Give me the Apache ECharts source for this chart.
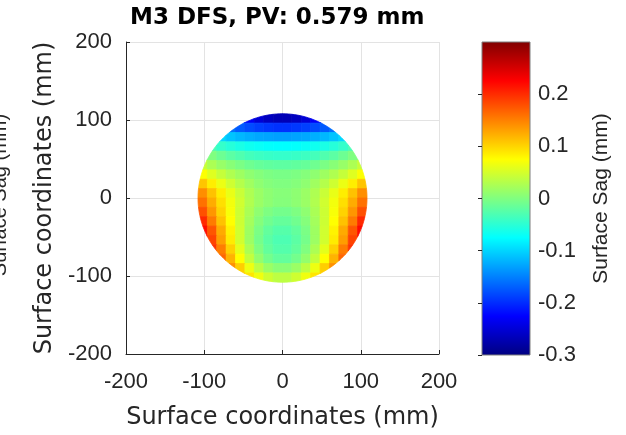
<!DOCTYPE html>
<html>
<head>
<meta charset="utf-8">
<title>M3 DFS</title>
<script src="https://cdn.jsdelivr.net/npm/echarts@6/dist/echarts.min.js"></script>
<style>
html, body { margin: 0; padding: 0; background: #fff; }
#sag_map { width: 626px; height: 435px; }
</style>
</head>
<body>
<div id="sag_map"></div>
<script>
var xCenters = [-102, -90, -78, -66, -54, -42, -30, -18, -6, 6, 18, 30, 42, 54, 66, 78, 90, 102];
var yCenters = [102, 90, 78, 66, 54, 42, 30, 18, 6, -6, -18, -30, -42, -54, -66, -78, -90, -102];
var cellSize = 12;
var apertureRadius = 108;
var axisRange = [-200, 200];
var axisStep = 100;
var sagRange = [-0.3, 0.3];
var sagStep = 0.1;

// surface sag in mm, rows top to bottom, null = outside the aperture
var sagRows = [
  [null, null, null, null, -0.21, -0.23, -0.25, -0.262, -0.268, -0.268, -0.262, -0.25, -0.23, -0.21, null, null, null, null],
  [null, null, null, -0.16, -0.172, -0.181, -0.188, -0.193, -0.196, -0.196, -0.193, -0.188, -0.181, -0.172, -0.16, null, null, null],
  [null, null, -0.098, -0.110, -0.117, -0.122, -0.127, -0.129, -0.131, -0.131, -0.129, -0.127, -0.122, -0.117, -0.110, -0.098, null, null],
  [null, -0.032, -0.044, -0.053, -0.060, -0.066, -0.070, -0.073, -0.075, -0.075, -0.073, -0.070, -0.066, -0.060, -0.053, -0.044, -0.032, null],
  [0.01, 0.0, -0.011, -0.021, -0.028, -0.035, -0.039, -0.042, -0.044, -0.044, -0.042, -0.039, -0.035, -0.028, -0.021, -0.011, 0.0, 0.01],
  [0.042, 0.026, 0.014, 0.005, -0.003, -0.010, -0.015, -0.018, -0.020, -0.020, -0.018, -0.015, -0.010, -0.003, 0.005, 0.014, 0.026, 0.042],
  [0.073, 0.056, 0.041, 0.028, 0.018, 0.009, 0.003, -0.002, -0.004, -0.004, -0.002, 0.003, 0.009, 0.018, 0.028, 0.041, 0.056, 0.073],
  [0.109, 0.085, 0.064, 0.046, 0.031, 0.019, 0.009, 0.003, 0.0, 0.0, 0.003, 0.009, 0.019, 0.031, 0.046, 0.064, 0.085, 0.109],
  [0.142, 0.111, 0.085, 0.062, 0.043, 0.027, 0.016, 0.008, 0.004, 0.004, 0.008, 0.016, 0.027, 0.043, 0.062, 0.085, 0.111, 0.142],
  [0.159, 0.124, 0.094, 0.068, 0.047, 0.029, 0.016, 0.008, 0.003, 0.003, 0.008, 0.016, 0.029, 0.047, 0.068, 0.094, 0.124, 0.159],
  [0.178, 0.137, 0.101, 0.071, 0.045, 0.025, 0.009, -0.001, -0.007, -0.007, -0.001, 0.009, 0.025, 0.045, 0.071, 0.101, 0.137, 0.178],
  [0.201, 0.153, 0.111, 0.075, 0.045, 0.021, 0.003, -0.009, -0.016, -0.016, -0.009, 0.003, 0.021, 0.045, 0.075, 0.111, 0.153, 0.201],
  [0.219, 0.175, 0.125, 0.082, 0.047, 0.018, -0.003, -0.017, -0.025, -0.025, -0.017, -0.003, 0.018, 0.047, 0.082, 0.125, 0.175, 0.219],
  [0.215, 0.186, 0.132, 0.086, 0.048, 0.017, -0.006, -0.021, -0.030, -0.030, -0.021, -0.006, 0.017, 0.048, 0.086, 0.132, 0.186, 0.215],
  [null, 0.195, 0.152, 0.102, 0.059, 0.026, 0.0, -0.017, -0.026, -0.026, -0.017, 0.0, 0.026, 0.059, 0.102, 0.152, 0.195, null],
  [null, null, 0.165, 0.120, 0.075, 0.039, 0.011, -0.007, -0.017, -0.017, -0.007, 0.011, 0.039, 0.075, 0.120, 0.165, null, null],
  [null, null, null, 0.14, 0.104, 0.065, 0.036, 0.016, 0.006, 0.006, 0.016, 0.036, 0.065, 0.104, 0.14, null, null, null],
  [null, null, null, null, 0.10, 0.09, 0.066, 0.046, 0.036, 0.036, 0.046, 0.066, 0.09, 0.10, null, null, null, null]
];

// jet colormap
var jetColors = ['#000080', '#0000ff', '#0080ff', '#00ffff', '#80ff80', '#ffff00', '#ff8000', '#ff0000', '#800000'];

var numFont = 'Liberation Sans, Arial, sans-serif';
var labelFont = 'DejaVu Sans, sans-serif';
var ink = '#262626';

var cells = [];
for (var i = 0; i < yCenters.length; i++) {
  for (var j = 0; j < xCenters.length; j++) {
    if (sagRows[i][j] !== null) cells.push([xCenters[j], yCenters[i], sagRows[i][j]]);
  }
}

// clip a polygon (data coords) to the round aperture, Sutherland-Hodgman
function clipToAperture(pts, r, n) {
  var out = pts;
  for (var k = 0; k < n && out.length; k++) {
    var a0 = 2 * Math.PI * k / n, a1 = 2 * Math.PI * (k + 1) / n;
    var ax = r * Math.cos(a0), ay = r * Math.sin(a0);
    var bx = r * Math.cos(a1), by = r * Math.sin(a1);
    var inp = out;
    out = [];
    for (var m = 0; m < inp.length; m++) {
      var p = inp[m], q = inp[(m + 1) % inp.length];
      var sp = (bx - ax) * (p[1] - ay) - (by - ay) * (p[0] - ax);
      var sq = (bx - ax) * (q[1] - ay) - (by - ay) * (q[0] - ax);
      if (sp >= 0) out.push(p);
      if ((sp >= 0) !== (sq >= 0)) {
        var t = sp / (sp - sq);
        out.push([p[0] + t * (q[0] - p[0]), p[1] + t * (q[1] - p[1])]);
      }
    }
  }
  return out;
}

var oChart = echarts.init(document.getElementById('sag_map'));

var barStops = jetColors.map(function (c, k) {
  return { offset: k / (jetColors.length - 1), color: c };
});

var option = {
  animation: false,
  title: {
    text: 'M3 DFS, PV: 0.579 mm',
    left: 130,
    top: 7,
    padding: 0,
    textStyle: { fontFamily: labelFont, fontWeight: 'bold', fontSize: 23, color: '#000' }
  },
  grid: [
    { left: 126, top: 42, width: 313, height: 314 },
    { left: 482, top: 42, width: 48, height: 313 }
  ],
  visualMap: {
    show: false,
    type: 'continuous',
    seriesIndex: 0,
    dimension: 2,
    min: sagRange[0],
    max: sagRange[1],
    inRange: { color: jetColors }
  },
  xAxis: [
    {
      type: 'value', gridIndex: 0,
      min: axisRange[0], max: axisRange[1], interval: axisStep,
      axisLine: { show: true, onZero: false, lineStyle: { color: ink, width: 1 } },
      axisTick: { show: true, inside: true, length: 4, lineStyle: { color: ink } },
      axisLabel: { fontSize: 22, margin: 17, color: ink, fontFamily: numFont },
      splitLine: { show: true, lineStyle: { color: '#e3e3e3', width: 1 } },
      name: 'Surface coordinates (mm)',
      nameLocation: 'middle',
      nameGap: 52,
      nameTextStyle: { fontSize: 24, fontFamily: labelFont, color: ink }
    },
    {
      type: 'value', gridIndex: 1, min: 0, max: 1, show: false
    }
  ],
  yAxis: [
    {
      type: 'value', gridIndex: 0,
      min: axisRange[0], max: axisRange[1], interval: axisStep,
      axisLine: { show: true, onZero: false, lineStyle: { color: ink, width: 1 } },
      axisTick: { show: true, inside: true, length: 4, lineStyle: { color: ink } },
      axisLabel: { fontSize: 22, margin: 14, color: ink, fontFamily: numFont },
      splitLine: { show: true, lineStyle: { color: '#e3e3e3', width: 1 } },
      name: 'Surface coordinates (mm)',
      nameLocation: 'middle',
      nameRotate: 90,
      nameGap: 69,
      nameTextStyle: { fontSize: 24, fontFamily: labelFont, color: ink }
    },
    {
      type: 'value', gridIndex: 1, position: 'right', z: 5,
      min: sagRange[0], max: sagRange[1], interval: sagStep,
      axisLine: { show: false },
      axisTick: { show: true, inside: true, length: 4, lineStyle: { color: ink } },
      axisLabel: { fontSize: 22, margin: 8, color: ink, fontFamily: numFont, showMaxLabel: false },
      splitLine: { show: false },
      name: 'Surface Sag (mm)',
      nameLocation: 'middle',
      nameRotate: 90,
      nameGap: 61,
      nameTextStyle: { fontSize: 21, fontFamily: numFont, color: ink }
    }
  ],
  graphic: [
    {
      type: 'text',
      x: 0, y: 195,
      rotation: Math.PI / 2,
      style: {
        text: 'Surface Sag (mm)',
        fontSize: 20, fontFamily: numFont, fill: ink,
        textAlign: 'center', textVerticalAlign: 'middle',
        align: 'center', verticalAlign: 'middle'
      }
    }
  ],
  series: [
    {
      type: 'custom',
      xAxisIndex: 0, yAxisIndex: 0,
      encode: { x: 0, y: 1 },
      data: cells,
      renderItem: function (params, api) {
        var cx = api.value(0), cy = api.value(1), h = cellSize / 2;
        var poly = clipToAperture([[cx - h, cy - h], [cx + h, cy - h], [cx + h, cy + h], [cx - h, cy + h]], apertureRadius, 180);
        if (poly.length < 3) return;
        var color = api.visual('color');
        return {
          type: 'polygon',
          shape: { points: poly.map(function (p) { return api.coord(p); }) },
          style: { fill: color, stroke: color, lineWidth: 0.8 }
        };
      }
    },
    {
      // colour bar
      type: 'custom',
      xAxisIndex: 1, yAxisIndex: 1,
      data: [[0, sagRange[0], 1, sagRange[1]]],
      renderItem: function (params, api) {
        var lo = api.coord([api.value(0), api.value(1)]);
        var hi = api.coord([api.value(2), api.value(3)]);
        return {
          type: 'rect',
          shape: { x: lo[0], y: hi[1], width: hi[0] - lo[0], height: lo[1] - hi[1] },
          style: { fill: new echarts.graphic.LinearGradient(0, 1, 0, 0, barStops), stroke: '#7f7f7f', lineWidth: 1 }
        };
      }
    }
  ]
};

oChart.setOption(option);
</script>
</body>
</html>
